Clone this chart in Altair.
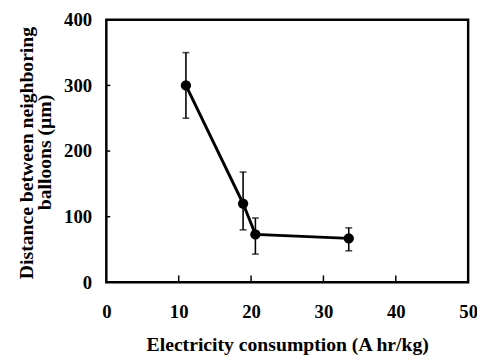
import altair as alt
import pandas as pd

consumption = [11.0, 18.9, 20.6, 33.5]
distance = [300, 120, 73, 67]
err_low = [250, 80, 43, 48]
err_high = [350, 168, 98, 83]

x_ticks = [10, 20, 30, 40]
y_ticks = [100, 200, 300]
y_title_lines = ["Distance between neighboring", "balloons (\u03bcm)"]

df = pd.DataFrame({"x": consumption, "y": distance, "lo": err_low, "hi": err_high})
xt = pd.DataFrame({"v": x_ticks})
yt = pd.DataFrame({"v": y_ticks})

FONT = "Liberation Serif"

xscale = alt.Scale(domain=[0, 50], nice=False, zero=False)
yscale = alt.Scale(domain=[0, 400], nice=False, zero=False)

xaxis = alt.Axis(
    values=[0, 10, 20, 30, 40, 50], ticks=False, tickSize=0, domain=False, grid=False,
    labelFont=FONT, labelFontSize=19, labelFontWeight="bold", labelColor="#000000",
    labelPadding=21, labelFlush=False,
    title="Electricity consumption (A hr/kg)", titleFont=FONT, titleFontSize=20,
    titleFontWeight="bold", titleColor="#000000", titleX=184, titleY=69,
    titleBaseline="alphabetic", titleAlign="center",
)
yaxis = alt.Axis(
    values=[0, 100, 200, 300, 400], ticks=False, tickSize=0, domain=False, grid=False,
    labelFont=FONT, labelFontSize=19, labelFontWeight="bold", labelColor="#000000",
    labelPadding=15, labelFlush=False,
    title=y_title_lines[0], titleFont=FONT,
    titleFontSize=20, titleFontWeight="bold", titleColor="#000000",
    titleX=-75, titleY=135, titleAngle=270, titleAlign="center",
    titleBaseline="alphabetic",
)

base = alt.Chart(df)

line = base.mark_line(color="black", strokeWidth=3).encode(
    x=alt.X("x:Q", scale=xscale, axis=xaxis),
    y=alt.Y("y:Q", scale=yscale, axis=yaxis),
)
err = base.mark_rule(color="black", strokeWidth=1.6).encode(
    x=alt.X("x:Q", scale=xscale), y=alt.Y("lo:Q", scale=yscale), y2="hi:Q"
)
cap_lo = base.mark_tick(color="black", thickness=1.6, size=7, orient="horizontal").encode(
    x=alt.X("x:Q", scale=xscale), y=alt.Y("lo:Q", scale=yscale)
)
cap_hi = base.mark_tick(color="black", thickness=1.6, size=7, orient="horizontal").encode(
    x=alt.X("x:Q", scale=xscale), y=alt.Y("hi:Q", scale=yscale)
)
pts = base.mark_point(filled=True, color="black", size=110, opacity=1).encode(
    x=alt.X("x:Q", scale=xscale), y=alt.Y("y:Q", scale=yscale)
)
xtick_marks = alt.Chart(xt).mark_rule(color="black", strokeWidth=1.5).encode(
    x=alt.X("v:Q", scale=xscale), y=alt.value(267), y2=alt.value(260)
)
ytick_marks = alt.Chart(yt).mark_rule(color="black", strokeWidth=1.5).encode(
    y=alt.Y("v:Q", scale=yscale), x=alt.value(0), x2=alt.value(4)
)
title2 = alt.Chart(pd.DataFrame({"t": [y_title_lines[1]]})).mark_text(
    font=FONT, fontSize=20, fontWeight="bold", color="#000000", angle=270,
    align="center", baseline="alphabetic",
).encode(text="t:N", x=alt.value(-56), y=alt.value(135))

chart = alt.layer(line, err, cap_lo, cap_hi, pts, xtick_marks, ytick_marks, title2).properties(
    width=368, height=267,
    autosize=alt.AutoSizeParams(type="none"),
    padding={"left": 100, "top": 9, "right": 9, "bottom": 76},
    background="white",
).configure_view(stroke="black", strokeWidth=2.5).configure_axis(
    labelColor="#000000", titleColor="#000000"
)

chart.save("out.html", embed_options={"renderer": "svg", "actions": False})
